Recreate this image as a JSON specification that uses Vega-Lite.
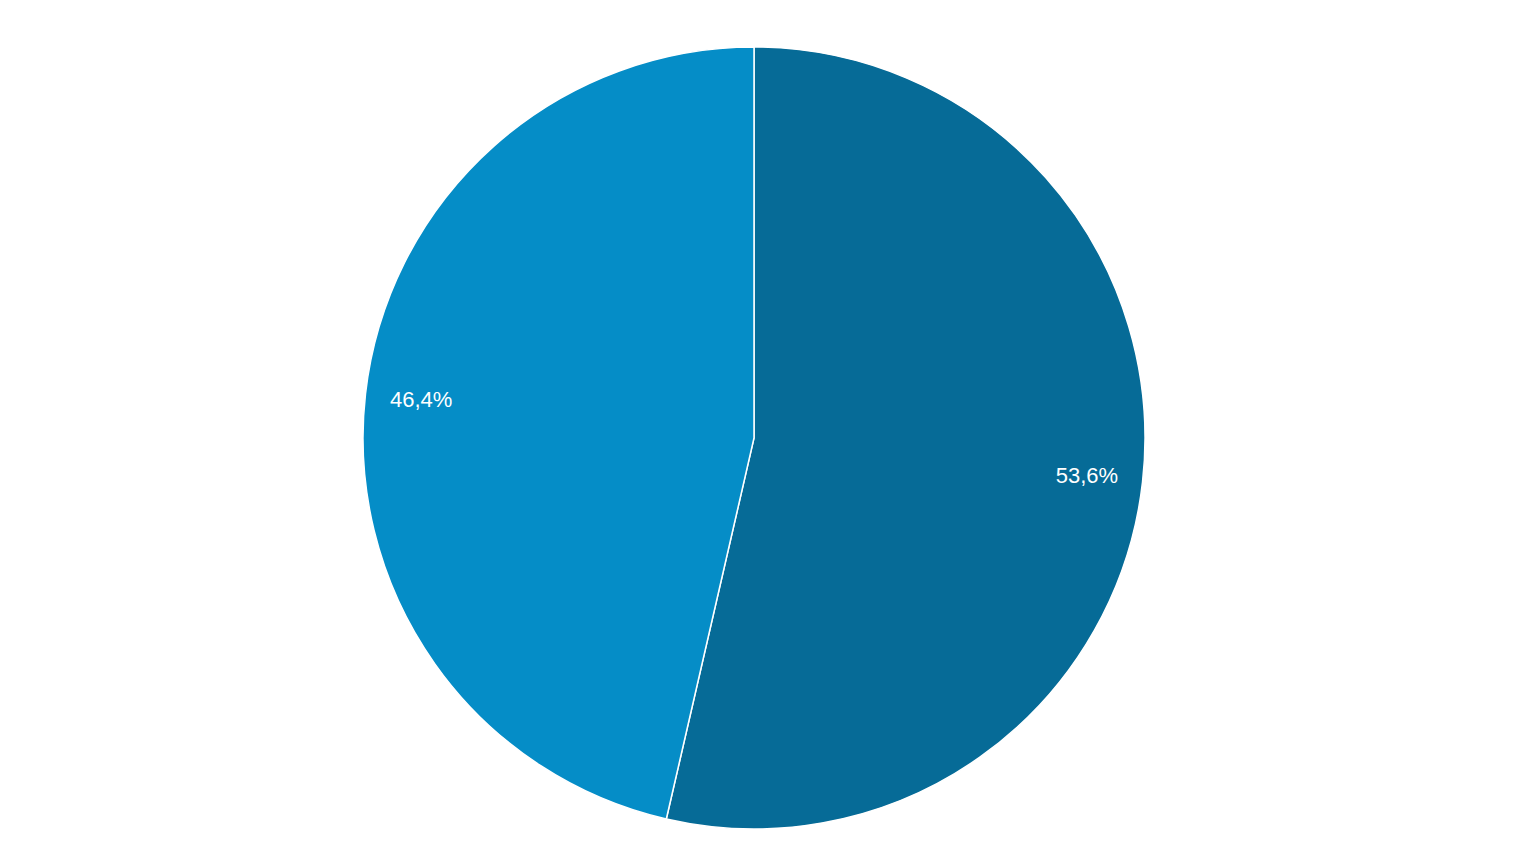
{
  "$schema": "https://vega.github.io/schema/vega-lite/v6.json",
  "width": 1508,
  "height": 856,
  "padding": {"left": 0, "top": 10, "right": 28, "bottom": 0},
  "autosize": "none",
  "background": "white",
  "view": {"stroke": null},
  "data": {
    "values": [
      {"category": "A", "value": 53.6, "label": "53,6%", "rank": 1},
      {"category": "B", "value": 46.4, "label": "46,4%", "rank": 2}
    ]
  },
  "encoding": {
    "theta": {"field": "value", "type": "quantitative", "stack": true},
    "order": {"field": "rank", "type": "quantitative"}
  },
  "layer": [
    {
      "mark": {"type": "arc", "outerRadius": 391, "stroke": "white", "strokeWidth": 1.5},
      "encoding": {
        "color": {
          "field": "category",
          "type": "nominal",
          "scale": {"domain": ["A", "B"], "range": ["#066b97", "#058dc7"]},
          "legend": null
        }
      }
    },
    {
      "mark": {"type": "text", "radius": 335, "fill": "white", "font": "Liberation Sans", "fontSize": 22},
      "encoding": {
        "text": {"field": "label", "type": "nominal"}
      }
    }
  ]
}
